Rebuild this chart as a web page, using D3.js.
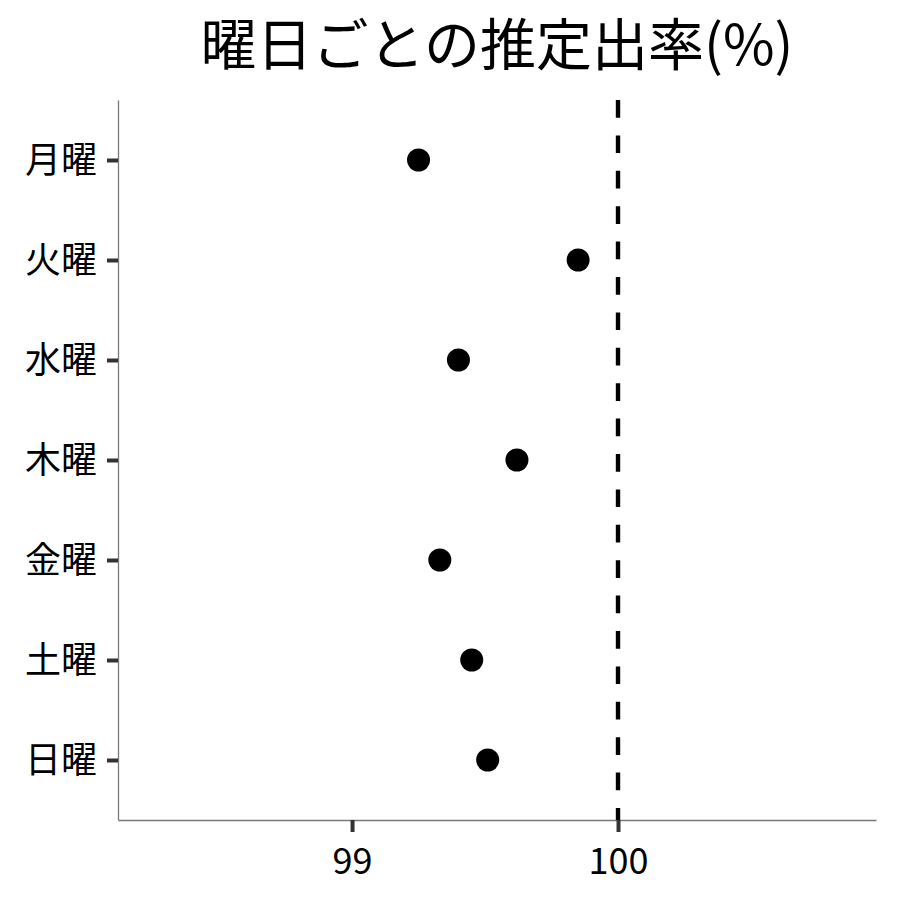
<!DOCTYPE html>
<html>
<head>
<meta charset="utf-8">
<script src="https://cdn.jsdelivr.net/npm/d3@7"></script>
<style>
  body { margin: 0; background: #fff; }
  text { font-family: "Noto Sans CJK JP", "Noto Sans", sans-serif; }
</style>
</head>
<body>
<div id="chart"></div>
<script>
const days = ["月曜", "火曜", "水曜", "木曜", "金曜", "土曜", "日曜"];
const rates = [99.25, 99.85, 99.40, 99.62, 99.33, 99.45, 99.51];
const xTicks = [99, 100];
const refValue = 100;
const title = "曜日ごとの推定出率(%)";

const margin = { top: 100, right: 24, bottom: 80, left: 118 };
const width = 900 - margin.left - margin.right;
const height = 820 - margin.top;

const svg = d3.select("#chart")
  .append("svg")
  .attr("width", 900)
  .attr("height", 900);

const g = svg.append("g")
  .attr("transform", `translate(${margin.left},${margin.top})`);

const x = d3.scaleLinear()
  .domain([98.12, 100.97])
  .range([0, width]);

const y = d3.scalePoint()
  .domain(days)
  .range([0, height])
  .padding(0.6);

// axes
const xAxis = g.append("g")
  .attr("transform", `translate(0,${height})`)
  .call(d3.axisBottom(x).tickValues(xTicks).tickSizeInner(12).tickSizeOuter(0).tickPadding(8).tickFormat(d3.format("d")));

const yAxis = g.append("g")
  .call(d3.axisLeft(y).tickSizeInner(11).tickSizeOuter(0).tickPadding(10));

[xAxis, yAxis].forEach(ax => {
  ax.select(".domain").attr("stroke", "#7a7a7a").attr("stroke-width", 1.3);
  ax.selectAll(".tick line").attr("stroke", "#333").attr("stroke-width", 4);
  ax.selectAll(".tick text")
    .attr("fill", "#000")
    .style("font-size", "36px")
    .style("font-family", "'Noto Sans CJK JP', sans-serif");
});
xAxis.selectAll(".tick text").attr("dy", "0.95em");
yAxis.selectAll(".tick text").attr("dy", "0.36em");

// reference line
g.append("line")
  .attr("x1", x(refValue))
  .attr("x2", x(refValue))
  .attr("y1", 0)
  .attr("y2", height)
  .attr("stroke", "#000")
  .attr("stroke-width", 4.4)
  .attr("stroke-dasharray", "17.7,17.7");

// points
g.selectAll("circle")
  .data(days)
  .enter()
  .append("circle")
  .attr("cx", (d, i) => x(rates[i]))
  .attr("cy", d => y(d))
  .attr("r", 11.5)
  .attr("fill", "#000");

// title
svg.append("text")
  .attr("x", margin.left + width / 2)
  .attr("y", 65)
  .attr("text-anchor", "middle")
  .style("font-size", "56px")
  .text(title);
</script>
</body>
</html>
